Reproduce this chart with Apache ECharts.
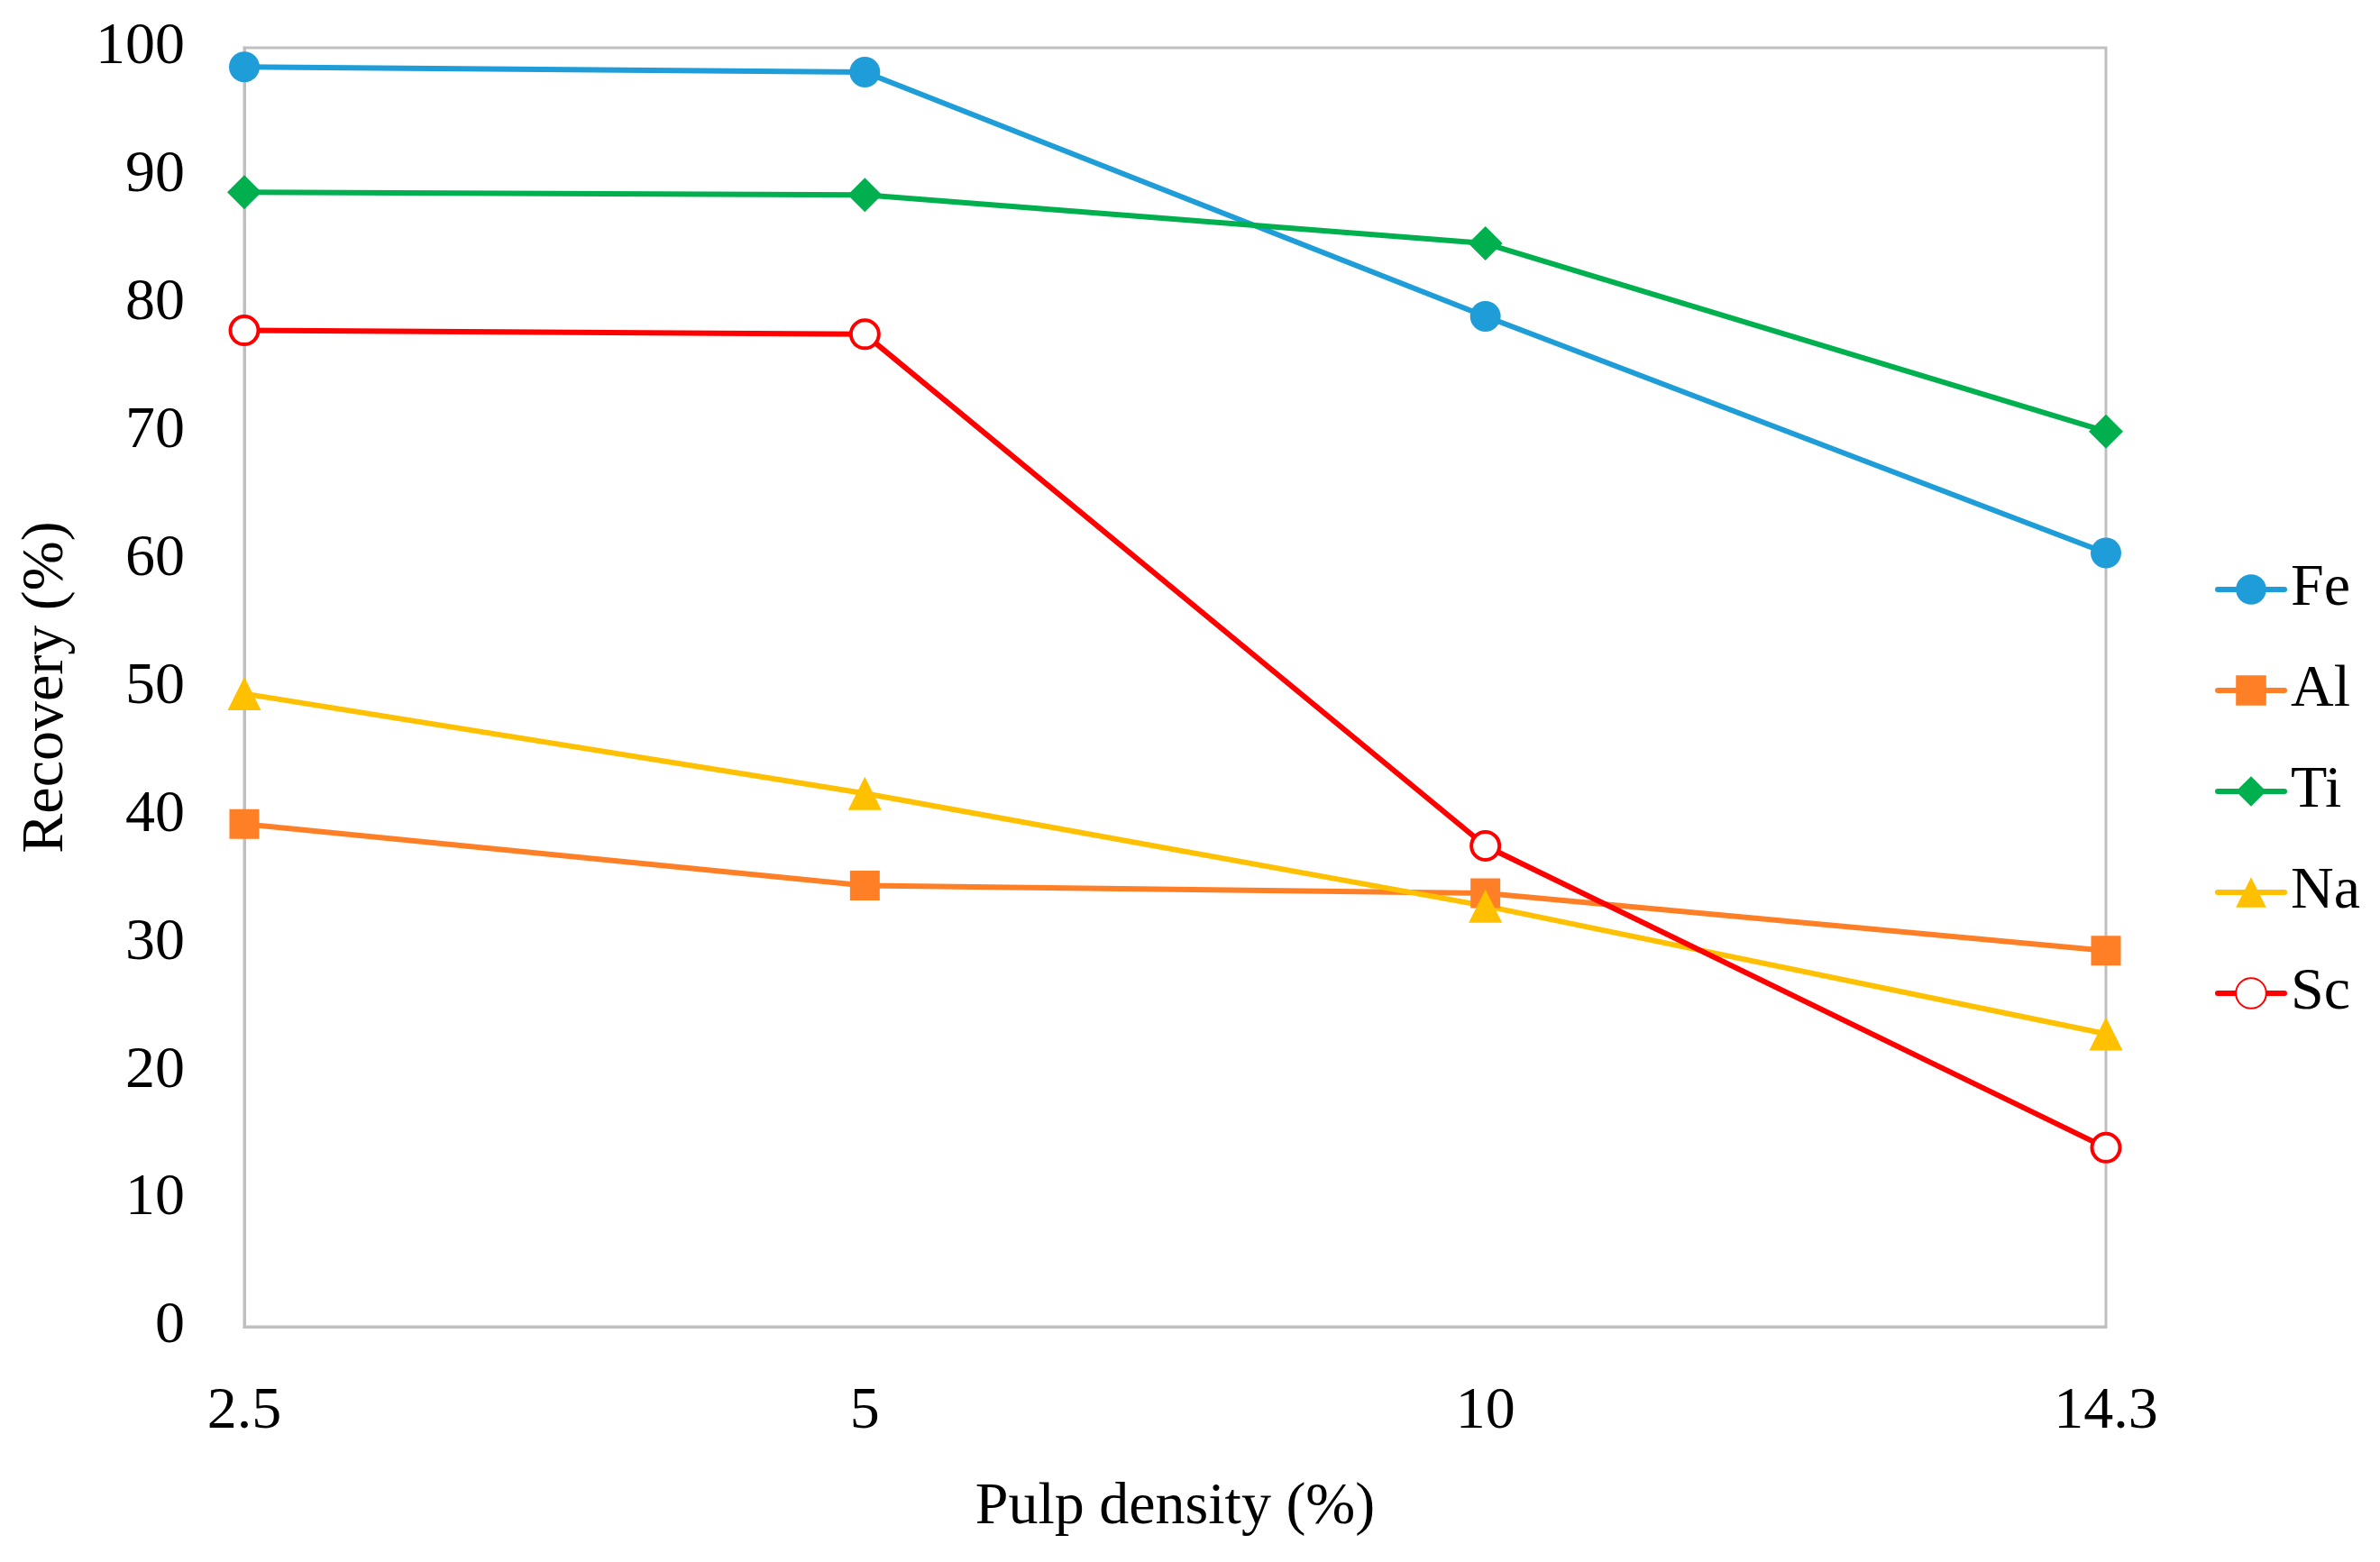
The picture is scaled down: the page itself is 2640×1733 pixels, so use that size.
<!DOCTYPE html>
<html>
<head>
<meta charset="utf-8">
<script src="https://cdn.jsdelivr.net/npm/echarts@6/dist/echarts.min.js"></script>
<style>
html,body{margin:0;padding:0;background:#fff;}
#chart{width:2640px;height:1733px;}
</style>
</head>
<body>
<div id="chart"></div>
<script>
const categories = ['2.5', '5', '10', '14.3'];
const fe = [98.5, 98.1, 79.0, 60.5];
const al = [39.3, 34.5, 33.9, 29.4];
const ti = [88.7, 88.5, 84.7, 70.0];
const na = [49.5, 41.7, 32.9, 22.9];
const sc = [77.9, 77.6, 37.6, 14.0];
const yTicks = [0, 10, 20, 30, 40, 50, 60, 70, 80, 90, 100];

const FONT = '"Liberation Serif", "Times New Roman", serif';
const FS = 66;

function line(name, data, color, symbol, size, hollow) {
  return {
    name: name,
    type: 'line',
    data: data,
    symbol: symbol,
    symbolSize: size,
    showSymbol: true,
    lineStyle: { color: color, width: 6 },
    itemStyle: hollow
      ? { color: '#ffffff', borderColor: color, borderWidth: 4 }
      : { color: color, borderWidth: 0 },
    emphasis: { disabled: true },
    z: 3
  };
}

const chart = echarts.init(document.getElementById('chart'), null, { renderer: 'canvas' });
chart.setOption({
  animation: false,
  backgroundColor: '#ffffff',
  textStyle: { fontFamily: FONT },
  grid: {
    left: 271, right: 304, top: 53, bottom: 261,
    show: true, borderColor: '#BFBFBF', borderWidth: 3, backgroundColor: 'transparent'
  },
  legend: {
    orient: 'vertical',
    left: 2452,
    top: 616,
    itemWidth: 74,
    itemHeight: 42,
    itemGap: 46,
    lineStyle: { width: 6, cap: 'round' },
    textStyle: { fontFamily: FONT, fontSize: FS, color: '#000', lineHeight: 66, padding: [0, 0, 0, 2] },
    data: ['Fe', 'Al', 'Ti', 'Na', 'Sc']
  },
  xAxis: {
    type: 'category',
    data: categories,
    boundaryGap: false,
    name: 'Pulp density (%)',
    nameLocation: 'middle',
    nameGap: 168,
    nameTextStyle: { fontFamily: FONT, fontSize: FS, color: '#000' },
    axisLine: { show: true, lineStyle: { color: '#BFBFBF', width: 3 } },
    axisTick: { show: false },
    splitLine: { show: false },
    axisLabel: { fontFamily: FONT, fontSize: FS, color: '#000', margin: 62 }
  },
  yAxis: {
    type: 'value',
    min: yTicks[0],
    max: yTicks[yTicks.length - 1],
    interval: 10,
    name: 'Recovery (%)',
    nameLocation: 'middle',
    nameGap: 186,
    nameTextStyle: { fontFamily: FONT, fontSize: FS, color: '#000' },
    axisLine: { show: true, lineStyle: { color: '#BFBFBF', width: 3 } },
    axisTick: { show: false },
    splitLine: { show: false },
    axisLabel: { fontFamily: FONT, fontSize: FS, color: '#000', margin: 66 }
  },
  series: [
    line('Fe', fe, '#1E9DD8', 'circle', 34, false),
    line('Al', al, '#FF7F27', 'rect', 33, false),
    line('Ti', ti, '#00B04F', 'diamond', 38, false),
    line('Na', na, '#FFC000', 'triangle', 37, false),
    line('Sc', sc, '#FF0000', 'circle', 31, true)
  ]
});
</script>
</body>
</html>
